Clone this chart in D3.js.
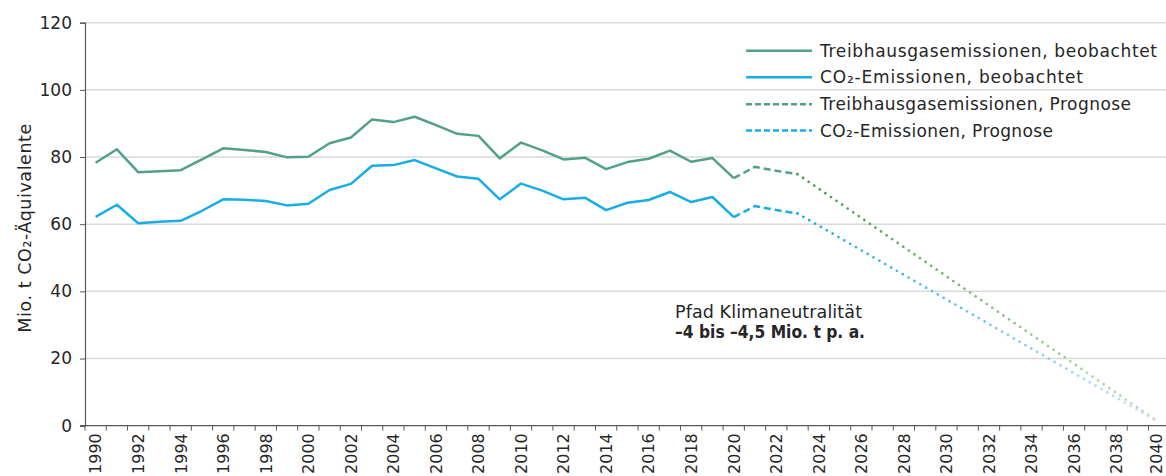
<!DOCTYPE html>
<html>
<head>
<meta charset="utf-8">
<script src="https://cdn.jsdelivr.net/npm/d3@7"></script>
<style>
  html, body { margin: 0; padding: 0; background: #fff; }
  svg { display: block; }
  text { font-family: "DejaVu Sans", sans-serif; fill: #262626; }
</style>
</head>
<body>
<svg id="chart" width="1166" height="476"></svg>
<script>
// ---------- DATA ----------
const categories = d3.range(1990, 2041);
const xTickLabels = ["1990","1992","1994","1996","1998","2000","2002","2004","2006","2008","2010","2012","2014","2016","2018","2020","2022","2024","2026","2028","2030","2032","2034","2036","2038","2040"];
const yTicks = [0, 20, 40, 60, 80, 100, 120];

const obsYears = [1990,1991,1992,1993,1994,1995,1996,1997,1998,1999,2000,2001,2002,2003,2004,2005,2006,2007,2008,2009,2010,2011,2012,2013,2014,2015,2016,2017,2018,2019,2020];
const thgObserved = [78.3,82.3,75.5,75.8,76.1,79.3,82.6,82.1,81.5,79.9,80.1,84.1,85.8,91.2,90.4,92.0,89.5,86.9,86.3,79.6,84.3,82.0,79.3,79.8,76.4,78.5,79.5,81.9,78.6,79.7,73.7];
const co2Observed = [62.2,65.8,60.3,60.7,61.0,64.0,67.4,67.3,66.9,65.6,66.1,70.2,72.0,77.4,77.6,79.1,76.6,74.2,73.5,67.4,72.1,70.0,67.4,67.9,64.2,66.4,67.2,69.6,66.6,68.1,62.1];

const progYears = [2020, 2021, 2022, 2023];
const thgPrognose = [73.7, 77.1, 75.9, 74.9];
const co2Prognose = [62.1, 65.4, 64.2, 63.2];

const pathYears = [2023, 2040];
const thgPfad = [74.9, 1.0];
const co2Pfad = [63.2, 1.0];

const legendLabels = ["Treibhausgasemissionen, beobachtet", "CO₂-Emissionen, beobachtet", "Treibhausgasemissionen, Prognose", "CO₂-Emissionen, Prognose"];

// ---------- STYLE ----------
const cTHG = "#52a08b";
const cCO2 = "#17aee8";

const svg = d3.select("#chart");
const mLeft = 85, catW = 21.27, mTop = 22.7, mBottom = 425.7;

const x = d3.scaleBand().domain(categories).range([mLeft, mLeft + categories.length * catW]).padding(0);
const y = d3.scaleLinear().domain([0, 120]).range([mBottom, mTop]);
const cx = yr => x(yr) + x.bandwidth() / 2;

// gridlines
svg.append("g").selectAll("line").data(yTicks.filter(d => d > 0)).join("line")
  .attr("x1", mLeft).attr("x2", 1166)
  .attr("y1", d => y(d)).attr("y2", d => y(d))
  .attr("stroke", "#d9d9d9").attr("stroke-width", 1.5);

// y axis
const yAxis = d3.axisLeft(y).tickValues(yTicks).tickSize(5).tickPadding(8).tickFormat(d3.format("d"));
const gy = svg.append("g").attr("transform", `translate(${mLeft},0)`).call(yAxis);
gy.select(".domain").attr("stroke", "#595959").attr("stroke-width", 1.2);
gy.selectAll(".tick line").attr("stroke", "#595959");
gy.selectAll(".tick text").style("font-size", "17px").attr("fill", "#262626");

// x axis: baseline + ticks at category boundaries
const gx = svg.append("g");
gx.append("line").attr("x1", mLeft - 5).attr("x2", 1166).attr("y1", mBottom).attr("y2", mBottom)
  .attr("stroke", "#595959").attr("stroke-width", 1.2);
gx.selectAll("line.tk").data(categories).join("line").attr("class", "tk")
  .attr("x1", d => x(d)).attr("x2", d => x(d)).attr("y1", mBottom).attr("y2", mBottom + 5)
  .attr("stroke", "#595959");
gx.selectAll("text").data(xTickLabels).join("text")
  .attr("transform", d => `translate(${Math.min(cx(+d) + 5.8, 1161.5)},${mBottom + 7.5}) rotate(-90)`)
  .attr("text-anchor", "end")
  .style("font-size", "16px")
  .text(d => d);

// y title
svg.append("text")
  .attr("transform", `translate(31,${(mTop + mBottom) / 2 + 4}) rotate(-90)`)
  .attr("text-anchor", "middle")
  .attr("textLength", 209).attr("lengthAdjust", "spacing")
  .style("font-size", "17.5px")
  .text("Mio. t CO₂-Äquivalente");

// lines
const line = d3.line().x(d => cx(d[0])).y(d => y(d[1]));
const zip = (a, b) => a.map((v, i) => [v, b[i]]);

// gradients for Pfad
const defs = svg.append("defs");
function grad(id, c1, c2) {
  const g = defs.append("linearGradient").attr("id", id).attr("gradientUnits", "userSpaceOnUse")
    .attr("x1", cx(pathYears[0])).attr("x2", cx(pathYears[1])).attr("y1", 0).attr("y2", 0);
  g.append("stop").attr("offset", "0%").attr("stop-color", c1);
  g.append("stop").attr("offset", "100%").attr("stop-color", c2);
}
grad("gThg", "#459a45", "#bfe0b8");
grad("gCo2", "#17a9e3", "#cce3f3");

svg.append("path").datum(zip(pathYears, co2Pfad)).attr("d", line)
  .attr("fill", "none").attr("stroke", "url(#gCo2)").attr("stroke-width", 2.8)
  .attr("stroke-linecap", "round").attr("stroke-dasharray", "0,6.75");
svg.append("path").datum(zip(pathYears, thgPfad)).attr("d", line)
  .attr("fill", "none").attr("stroke", "url(#gThg)").attr("stroke-width", 2.8)
  .attr("stroke-linecap", "round").attr("stroke-dasharray", "0,6.75");

svg.append("path").datum(zip(progYears, co2Prognose)).attr("d", line)
  .attr("fill", "none").attr("stroke", cCO2).attr("stroke-width", 2.5).attr("stroke-dasharray", "7,4");
svg.append("path").datum(zip(progYears, thgPrognose)).attr("d", line)
  .attr("fill", "none").attr("stroke", cTHG).attr("stroke-width", 2.5).attr("stroke-dasharray", "7,4");

svg.append("path").datum(zip(obsYears, co2Observed)).attr("d", line)
  .attr("fill", "none").attr("stroke", cCO2).attr("stroke-width", 2.5).attr("stroke-linejoin", "round");
svg.append("path").datum(zip(obsYears, thgObserved)).attr("d", line)
  .attr("fill", "none").attr("stroke", cTHG).attr("stroke-width", 2.5).attr("stroke-linejoin", "round");

// legend
const legStyles = [
  {c: cTHG, dash: null}, {c: cCO2, dash: null}, {c: cTHG, dash: "6,3"}, {c: cCO2, dash: "6,3"}
];
const legY = [50.7, 77.3, 104.3, 130.5];
const legW = [337, 263, 311, 233];
const lg = svg.append("g");
legendLabels.forEach((t, i) => {
  lg.append("line").attr("x1", 746).attr("x2", 812).attr("y1", legY[i]).attr("y2", legY[i])
    .attr("stroke", legStyles[i].c).attr("stroke-width", 2.5)
    .attr("stroke-dasharray", legStyles[i].dash);
  lg.append("text").attr("x", 820).attr("y", legY[i]).attr("dy", "0.36em")
    .attr("textLength", legW[i]).attr("lengthAdjust", "spacing")
    .style("font-size", "17px").text(t);
});

// annotation
svg.append("text").attr("x", 675).attr("y", 318)
  .attr("textLength", 187).attr("lengthAdjust", "spacing")
  .style("font-size", "17.5px").text("Pfad Klimaneutralität");
svg.append("text").attr("x", 675).attr("y", 338)
  .attr("textLength", 190).attr("lengthAdjust", "spacingAndGlyphs")
  .style("font-size", "17px").style("font-weight", "bold")
  .text("–4 bis –4,5 Mio. t p. a.");
</script>
</body>
</html>
